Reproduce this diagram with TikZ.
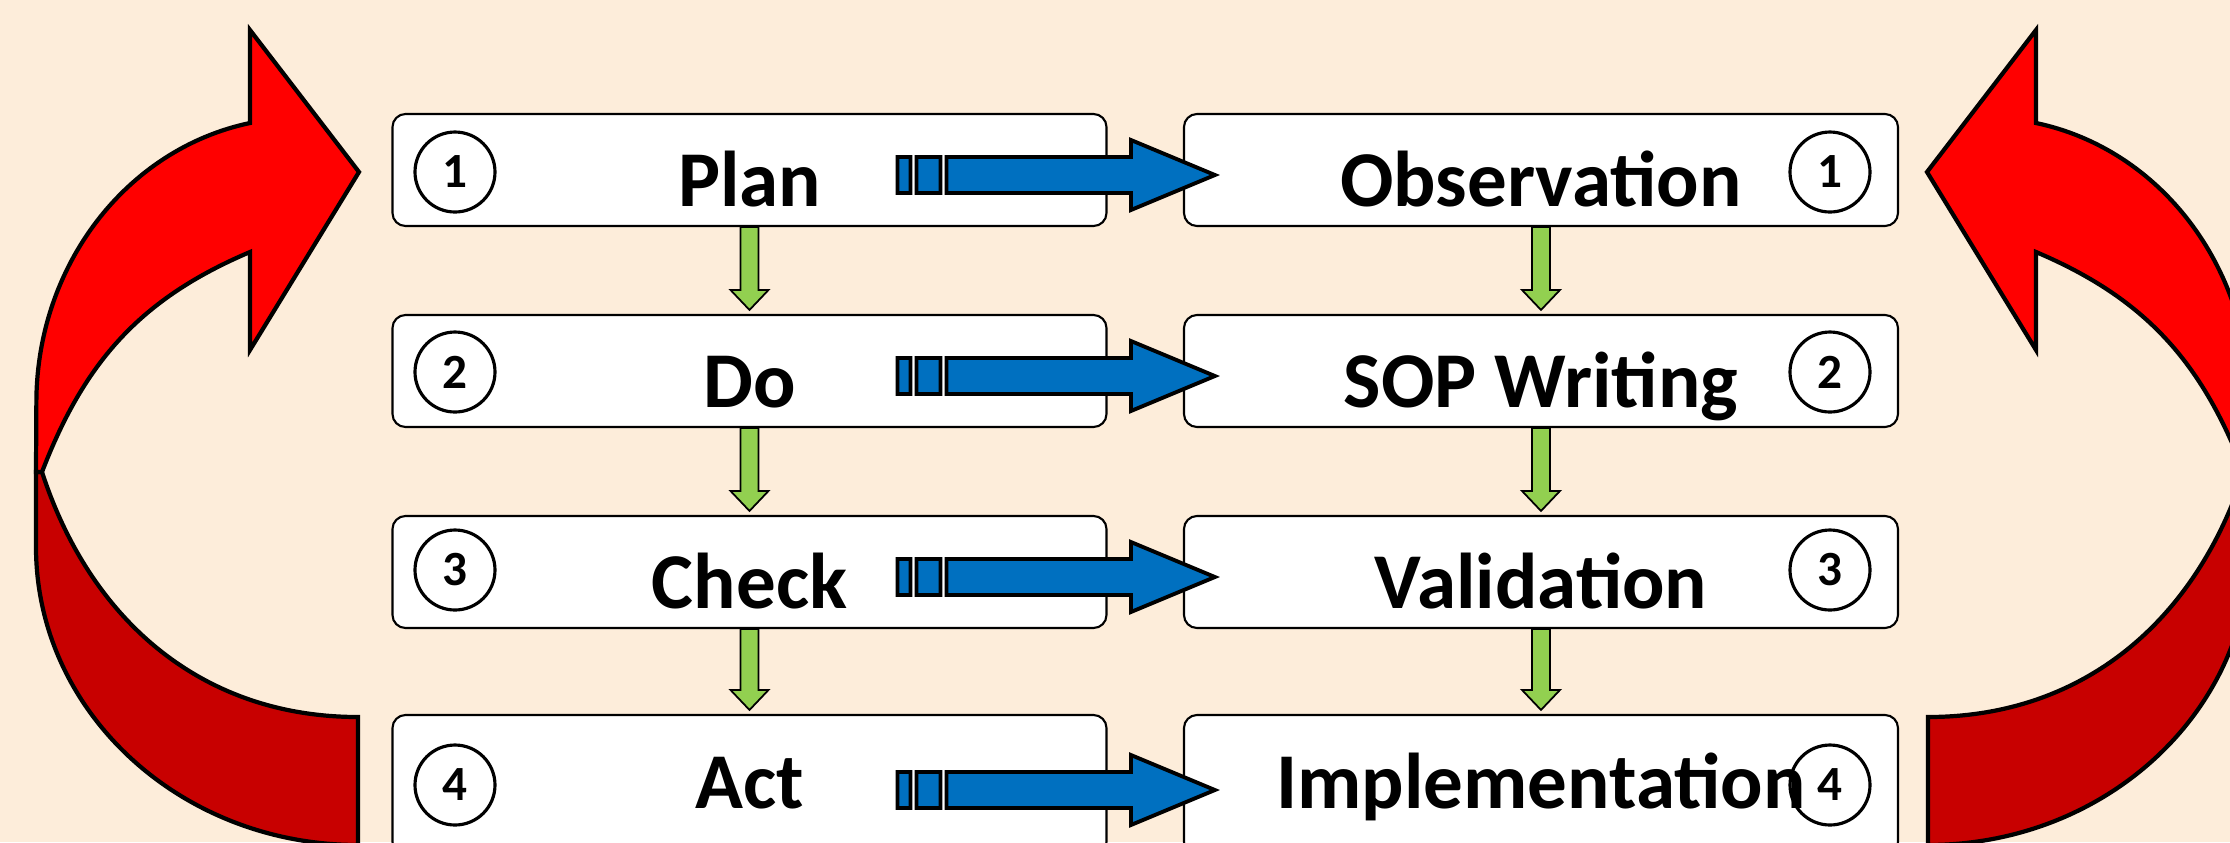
\documentclass[tikz,border=0pt]{standalone}
\usepackage{fontspec}
\setmainfont{Carlito}
\usetikzlibrary{calc}

\definecolor{fondo}{HTML}{FDEDDA}
\definecolor{rojo}{HTML}{FF0000}
\definecolor{rojooscuro}{HTML}{C80000}
\definecolor{azul}{HTML}{0070C0}
\definecolor{verde}{HTML}{92D050}

\tikzset{
  caja/.style={draw=black, line width=0.6pt, fill=white, rounded corners=0.13cm,
    minimum width=7.14cm, minimum height=1.12cm, inner sep=0pt,
    text height=0.72cm, text depth=0pt, font=\fontsize{22.5}{27}\selectfont\bfseries},
  ultima/.style={minimum height=1.40cm, text depth=0.26cm},
  num/.style={circle, draw=black, line width=0.9pt, minimum size=0.80cm, inner sep=0pt,
    font=\fontsize{14}{16}\selectfont\bfseries},
  cinta/.style={draw=black, line width=1.2pt, line join=miter},
  % flecha verde hacia abajo entre dos cajas
  bajada/.style={fill=verde, draw=black, line width=0.5pt, line join=miter,
    to path={let \p1=(\tikztostart.south), \p2=(\tikztotarget.north) in
      (\x1-0.09cm,\y1) -- (\x1-0.09cm,\y2+0.24cm) -- (\x1-0.19cm,\y2+0.24cm)
      -- (\x1,\y2+0.04cm) -- (\x1+0.19cm,\y2+0.24cm) -- (\x1+0.09cm,\y2+0.24cm)
      -- (\x1+0.09cm,\y1) -- cycle}},
  % flecha azul con franjas de una columna a la otra
  franja/.style={fill=azul, draw=black, line width=1.1pt, line join=miter,
    to path={let \p1=(\tikztostart.east), \p2=(\tikztotarget.west) in
      (\x1-2.10cm,\y1-0.23cm) rectangle (\x1-1.97cm,\y1+0.13cm)
      (\x1-1.91cm,\y1-0.23cm) rectangle (\x1-1.67cm,\y1+0.13cm)
      (\x1-1.61cm,\y1-0.23cm) -- (\x2-0.52cm,\y1-0.23cm) -- (\x2-0.52cm,\y1-0.40cm)
      -- (\x2+0.32cm,\y1-0.05cm) -- (\x2-0.52cm,\y1+0.30cm) -- (\x2-0.52cm,\y1+0.13cm)
      -- (\x1-1.61cm,\y1+0.13cm) -- cycle}}
}

\begin{document}
\begin{tikzpicture}
  % Fondo
  \path[use as bounding box, fill=fondo] (0,0) rectangle (22.30,-8.42);

  % Cintas rojas (la derecha es el reflejo de la izquierda)
  \foreach \sx/\dx in {1/0, -1/22.86} {
    \begin{scope}[xshift=\dx cm, xscale=\sx]
      \filldraw[cinta, fill=rojooscuro] (0.42,-4.72) to[out=288,in=180] (3.58,-7.17) -- (3.58,-8.45)
        arc[start angle=270, end angle=180, x radius=3.22, y radius=2.98] -- (0.36,-4.72) -- cycle;
      \filldraw[cinta, fill=rojo] (2.50,-1.23) arc[start angle=101, end angle=180, x radius=2.64, y radius=2.85]
        -- (0.36,-4.72) -- (0.42,-4.72) to[out=69,in=203] (2.50,-2.52)
        -- (2.50,-3.50) -- (3.59,-1.72) -- (2.50,-0.30) -- cycle;
    \end{scope}
  }

  % Columna PDCA
  \node[caja] (p1) at (7.495,-1.70) {Plan};
  \node[caja] (p2) at (7.495,-3.71) {Do};
  \node[caja] (p3) at (7.495,-5.72) {Check};
  \node[caja, ultima] (p4) at (7.495,-7.85) {Act};

  % Columna SOP
  \node[caja] (s1) at (15.41,-1.70) {Observation};
  \node[caja] (s2) at (15.41,-3.71) {SOP Writing};
  \node[caja] (s3) at (15.41,-5.72) {Validation};
  \node[caja, ultima] (s4) at (15.41,-7.85) {Implementation};

  % Numeros en circulo
  \node[num] (c1) at (4.55,-1.72) {1};
  \node[num] (c2) at (4.55,-3.72) {2};
  \node[num] (c3) at (4.55,-5.70) {3};
  \node[num] (c4) at (4.55,-7.85) {4};
  \node[num] (d1) at (18.30,-1.72) {1};
  \node[num] (d2) at (18.30,-3.72) {2};
  \node[num] (d3) at (18.30,-5.70) {3};
  \node[num] (d4) at (18.30,-7.85) {4};

  % Flechas verdes
  \foreach \from/\to in {p1/p2, p2/p3, p3/p4, s1/s2, s2/s3, s3/s4}
    \draw[bajada] (\from) to (\to);

  % Flechas azules
  \foreach \from/\to in {p1/s1, p2/s2, p3/s3, p4/s4}
    \draw[franja] (\from) to (\to);
\end{tikzpicture}
\end{document}
